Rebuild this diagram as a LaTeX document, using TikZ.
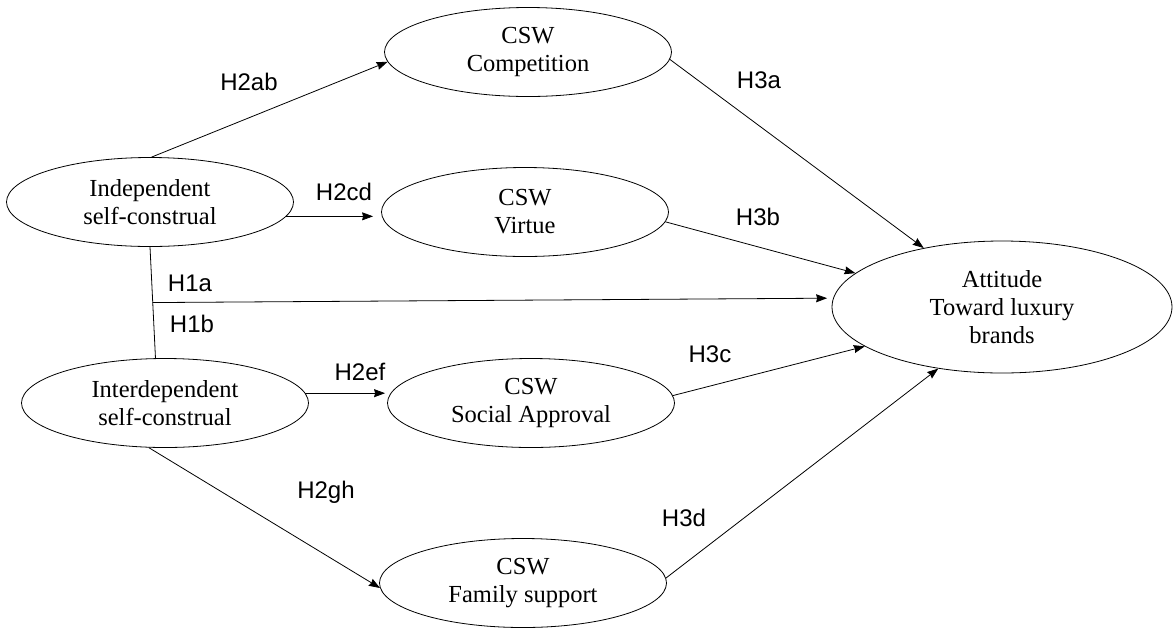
\documentclass[tikz,border=0pt]{standalone}
\usepackage{fontspec}
\setmainfont{Liberation Serif}
\setsansfont{Liberation Sans}
\usetikzlibrary{calc, shapes.geometric, arrows.meta}
\tikzset{>={Stealth[length=11pt, width=8pt, inset=1pt]}}
\tikzset{construct/.style={draw, ellipse, inner sep=0pt, minimum width=287pt, minimum height=89pt, align=center, font=\fontsize{24.5}{28}\selectfont}}
\tikzset{hyp/.style={font=\sffamily\fontsize{24}{26}\selectfont}}

\begin{document}
\begin{tikzpicture}[x=1pt, y=-1pt, line width=0.8pt]
    \useasboundingbox (0,0) rectangle (1173,633);
    % constructs
    \node[construct] (indep) at (150,202) {Independent\\self-construal};
    \node[construct] (inter) at (165,403) {Interdependent\\self-construal};
    \node[construct] (comp) at (528,52) {CSW\\Competition};
    \node[construct] (virtue) at (525,212) {CSW\\Virtue};
    \node[construct] (social) at (531,403) {CSW\\Social Approval};
    \node[construct] (family) at (523,583) {CSW\\Family support};
    \node[construct, minimum width=340pt, minimum height=132pt] (att) at (1002,307) {Attitude\\Toward luxury\\brands};
    % paths
    \draw[->] (indep.88) -- (comp.184);
    \draw[->, shorten >=8pt] (indep.-6) -- (indep.-6 -| virtue.west);
    \draw (indep.south) -- (inter.102);
    \coordinate (h1) at ($(indep.south)!0.5!(inter.102)$);
    \draw[->, shorten >=6pt] (h1) -- (att.177);
    \draw[->, shorten >=2pt] (inter.4) -- (inter.4 -| social.west);
    \draw[->] (inter.250) -- (family.182);
    \draw[->] (comp.-3) -- (att.143);
    \draw[->] (virtue.-4) -- (att.167);
    \draw[->] (social.3) -- (att.196);
    \draw[->] (family.2) -- (att.224);
    % hypotheses
    \node[hyp] (h2ab) at (249,82) {H2ab};
    \node[hyp] (h2cd) at (344,192) {H2cd};
    \node[hyp] (h1a) at (190,283) {H1a};
    \node[hyp] (h1b) at (192,324) {H1b};
    \node[hyp] (h2ef) at (360,372) {H2ef};
    \node[hyp] (h2gh) at (326,492) {H2gh};
    \node[hyp] (h3a) at (759,80) {H3a};
    \node[hyp] (h3b) at (758,217) {H3b};
    \node[hyp] (h3c) at (710,354) {H3c};
    \node[hyp] (h3d) at (684,518) {H3d};
\end{tikzpicture}
\end{document}
